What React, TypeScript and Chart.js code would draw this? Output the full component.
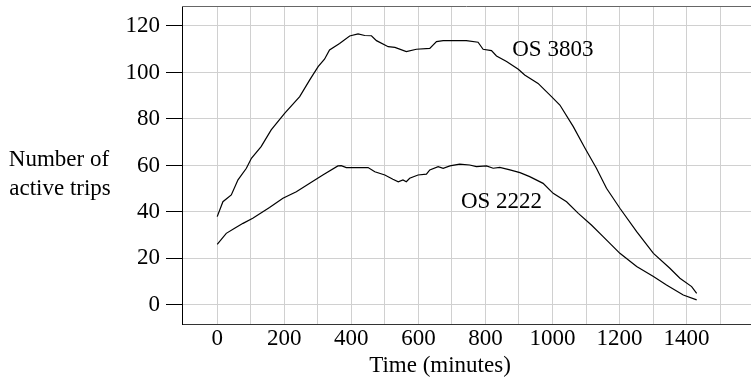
import React, { useEffect, useRef } from "react";
import { Chart, registerables } from "chart.js";

Chart.register(...registerables);

// OS 3803 (upper curve)
const os3803X = [0, 17, 42, 62, 87, 102, 131, 161, 201, 246, 276, 301, 320, 335, 365, 395, 420, 440, 460, 475, 510, 530, 564, 594, 634, 654, 674, 743, 778, 793, 818, 833, 863, 898, 917, 957, 997, 1022, 1062, 1097, 1131, 1161, 1201, 1251, 1301, 1350, 1380, 1415, 1430];
const os3803Y = [38.0, 44.4, 47.3, 53.8, 58.8, 63.1, 68.1, 75.3, 82.4, 89.6, 96.8, 102.5, 105.7, 109.7, 112.5, 115.7, 116.6, 115.9, 115.8, 113.7, 111.1, 110.8, 109.0, 110.0, 110.4, 113.3, 113.7, 113.7, 113.0, 110.0, 109.4, 107.1, 104.7, 101.4, 98.9, 95.3, 89.6, 86.0, 76.7, 67.4, 58.8, 50.2, 41.6, 31.5, 22.2, 15.8, 11.5, 7.9, 5.0];

// OS 2222 (lower curve)
const os2222X = [0, 27, 52, 77, 106, 156, 196, 236, 276, 315, 360, 370, 385, 450, 470, 500, 524, 540, 554, 564, 574, 599, 624, 634, 659, 674, 694, 723, 753, 773, 803, 823, 843, 873, 903, 932, 972, 1002, 1042, 1077, 1116, 1151, 1201, 1251, 1301, 1340, 1390, 1430];
const os2222Y = [26.1, 30.8, 33.0, 35.1, 37.3, 41.9, 45.9, 48.7, 52.3, 55.9, 59.8, 59.9, 59.1, 59.1, 57.3, 55.9, 54.1, 53.0, 53.8, 53.0, 54.5, 55.9, 56.3, 58.1, 59.5, 58.8, 59.8, 60.6, 60.2, 59.5, 59.8, 58.8, 59.2, 58.1, 56.9, 55.2, 52.3, 48.0, 44.4, 39.4, 34.4, 29.4, 22.2, 16.5, 12.2, 8.6, 4.3, 2.2];

const xTickValues = [0, 100, 200, 300, 400, 500, 600, 700, 800, 900, 1000, 1100, 1200, 1300, 1400, 1500];
const yTickValues = [0, 20, 40, 60, 80, 100, 120];

const seriesLabels = ["OS 3803", "OS 2222"];
const seriesLabelX = [1001, 848];
const seriesLabelY = [109.7, 44.4];

const xTitle = "Time (minutes)";
const yTitleLines = ["Number of", "active trips"];

const FONT = "'Liberation Serif', 'Times New Roman', serif";
const FS = 23;

export default function App() {
  const ref = useRef<HTMLCanvasElement | null>(null);

  useEffect(() => {
    document.body.style.margin = "0";
    const canvas = ref.current;
    if (!canvas) return;

    const textPlugin = {
      id: "texts",
      afterDraw(chart: any) {
        const ctx = chart.ctx;
        const xs = chart.scales.x;
        const ys = chart.scales.y;
        const area = chart.chartArea;
        ctx.save();
        // top border
        ctx.strokeStyle = "#666666";
        ctx.lineWidth = 1;
        ctx.beginPath();
        ctx.moveTo(area.left, Math.round(area.top) + 0.5);
        ctx.lineTo(area.right, Math.round(area.top) + 0.5);
        ctx.stroke();

        ctx.fillStyle = "#000";
        ctx.font = `${FS}px ${FONT}`;
        ctx.textAlign = "center";
        ctx.textBaseline = "middle";
        seriesLabels.forEach((t, i) => {
          ctx.fillText(t, xs.getPixelForValue(seriesLabelX[i]), ys.getPixelForValue(seriesLabelY[i]));
        });
        ctx.fillText(xTitle, 440, 366);
        ctx.fillText(yTitleLines[0], 59, 160);
        ctx.fillText(yTitleLines[1], 60, 189);
        ctx.restore();
      },
    };

    const zeroPad = (s: any) => {
      s.paddingTop = 0;
      s.paddingBottom = 0;
      s.paddingLeft = 0;
      s.paddingRight = 0;
    };

    const chart = new Chart(canvas, {
      type: "line",
      data: {
        datasets: [
          {
            label: seriesLabels[0],
            data: os3803X.map((x, i) => ({ x, y: os3803Y[i] })),
            borderColor: "#000",
            borderWidth: 1.2,
            pointRadius: 0,
            tension: 0,
          },
          {
            label: seriesLabels[1],
            data: os2222X.map((x, i) => ({ x, y: os2222Y[i] })),
            borderColor: "#000",
            borderWidth: 1.2,
            pointRadius: 0,
            tension: 0,
          },
        ],
      },
      options: {
        responsive: false,
        animation: false,
        layout: { padding: { top: 6, right: 0, left: 0, bottom: 0 } },
        plugins: { legend: { display: false }, tooltip: { enabled: false } },
        scales: {
          x: {
            type: "linear",
            min: -105,
            max: 1592,
            afterBuildTicks: (s: any) => {
              s.ticks = xTickValues.map((v) => ({ value: v }));
            },
            afterFit: (s: any) => {
              s.height = 59;
              zeroPad(s);
            },
            grid: { color: "#d0d0d0", lineWidth: 1, drawTicks: false },
            border: { color: "#333333", width: 1 },
            ticks: {
              autoSkip: false,
              maxRotation: 0,
              padding: 1,
              color: "#000",
              font: { family: FONT, size: FS },
              callback: (v: any) => (Number(v) % 200 === 0 ? String(v) : ""),
            },
          },
          y: {
            type: "linear",
            min: -8.2,
            max: 128.6,
            afterBuildTicks: (s: any) => {
              s.ticks = yTickValues.map((v) => ({ value: v }));
            },
            afterFit: (s: any) => {
              s.width = 182;
              zeroPad(s);
            },
            grid: { color: "#d0d0d0", lineWidth: 1, drawTicks: true, tickLength: 16, tickColor: "#000" },
            border: { color: "#000", width: 1 },
            ticks: {
              autoSkip: false,
              padding: 6,
              color: "#000",
              font: { family: FONT, size: FS },
            },
          },
        },
      },
      plugins: [textPlugin],
    } as any);

    return () => chart.destroy();
  }, []);

  return (
    <div style={{ position: "absolute", left: 0, top: 0, width: 751, height: 383 }}>
      <canvas ref={ref} width={751} height={383} style={{ width: 751, height: 383 }} />
    </div>
  );
}
